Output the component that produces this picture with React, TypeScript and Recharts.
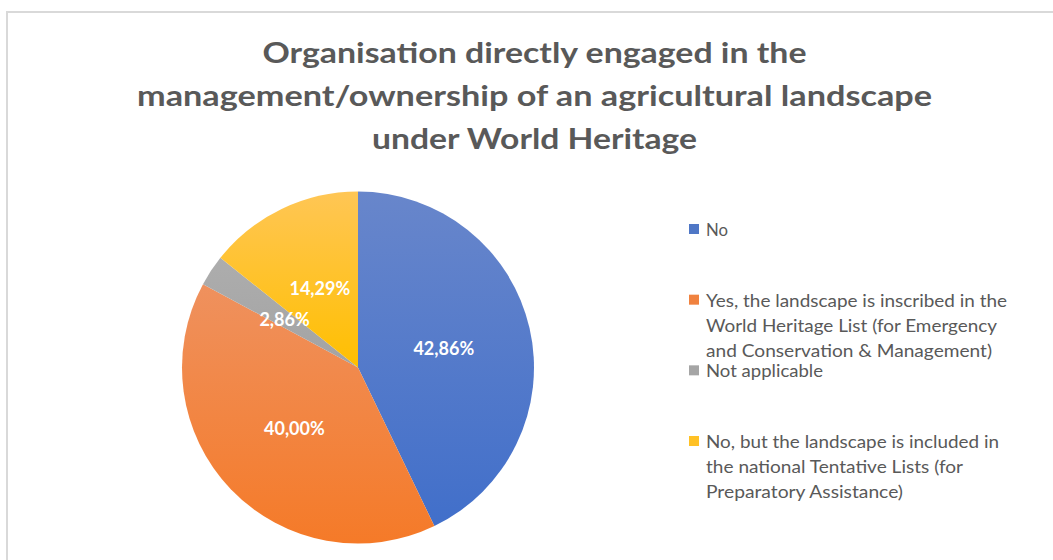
import React from "react";
import { PieChart, Pie, Cell, Legend } from "recharts";

// ---- data ----
const categories = [
  "No",
  "Yes, the landscape is inscribed in the World Heritage List (for Emergency and Conservation & Management)",
  "Not applicable",
  "No, but the landscape is included in the national Tentative Lists (for Preparatory Assistance)",
];
const shares = [42.86, 40.0, 2.86, 14.29];
const legendLines = [
  ["No"],
  ["Yes, the landscape is inscribed in the", "World Heritage List (for Emergency", "and Conservation & Management)"],
  ["Not applicable"],
  ["No, but the landscape is included in", "the national Tentative Lists (for", "Preparatory Assistance)"],
];
const titleLines = [
  "Organisation directly engaged in the",
  "management/ownership of an agricultural landscape",
  "under World Heritage",
];

// ---- styles / layout ----
const W = 1053;
const H = 560;
const FONT = "Lato, 'Open Sans', sans-serif";
const TEXT = "#595959";
const gradients = [
  { id: "gBlue", top: "#6886cb", bottom: "#416fca" },
  { id: "gOrange", top: "#ef915e", bottom: "#f57a28" },
  { id: "gGray", top: "#adadad", bottom: "#a3a3a3" },
  { id: "gYellow", top: "#ffc655", bottom: "#ffbf00" },
];
const markerColors = ["#4f77c6", "#f0823f", "#a5a5a5", "#ffc125"];
const titleWidths = [544, 795, 325];
const titleBaselines = [63, 106, 149];
const legendWidths = [[22], [301, 291, 286], [117], [293, 257, 197]];
const LEG_X = 680;
const LEG_Y = 210;

const data = categories.map((name, i) => ({ name, value: shares[i] }));

const fmt = (v: number) => v.toFixed(2).replace(".", ",") + "%";

const RAD = Math.PI / 180;
const renderLabel = (props: any) => {
  const { cx, cy, midAngle, outerRadius, value } = props;
  const r = outerRadius * 0.5;
  const x = cx + r * Math.cos(-midAngle * RAD);
  const y = cy + r * Math.sin(-midAngle * RAD);
  return (
    <text
      x={x}
      y={y}
      fill="#ffffff"
      textAnchor="middle"
      dominantBaseline="central"
      fontFamily={FONT}
      fontWeight={700}
      fontSize={18}
    >
      {fmt(value)}
    </text>
  );
};

const renderLegend = (props: any) => {
  const payload = props.payload || [];
  return (
    <svg width={360} height={310} style={{ overflow: "visible" }}>
      {payload.map((entry: any, i: number) => {
        const base = 236 + i * 70.67 - LEG_Y;
        const lines = legendLines[i] || [entry.value];
        return (
          <g key={i}>
            <rect x={689 - LEG_X} y={base - 12} width={10} height={10} fill={markerColors[i]} />
            {lines.map((ln, j) => (
              <text
                key={j}
                x={706 - LEG_X}
                y={base + j * 25}
                fill={TEXT}
                fontFamily={FONT}
                fontSize={18}
                textLength={legendWidths[i][j]}
                lengthAdjust="spacingAndGlyphs"
              >
                {ln}
              </text>
            ))}
          </g>
        );
      })}
    </svg>
  );
};

export default function App() {
  return (
    <div
      style={{
        position: "fixed",
        left: 0,
        top: 0,
        width: W,
        height: H,
        overflow: "hidden",
        background: "#ffffff",
      }}
    >
      <div
        style={{
          position: "absolute",
          left: 6,
          top: 11,
          width: W + 20,
          height: H + 20,
          border: "2px solid #d9d9d9",
          boxSizing: "border-box",
        }}
      />
      <div style={{ position: "absolute", left: 0, top: 0 }}>
        <PieChart width={W} height={H} margin={{ top: 0, right: 0, bottom: 0, left: 0 }}>
          <defs>
            {gradients.map((g) => (
              <linearGradient key={g.id} id={g.id} x1="0" y1="0" x2="0" y2="1">
                <stop offset="0%" stopColor={g.top} />
                <stop offset="100%" stopColor={g.bottom} />
              </linearGradient>
            ))}
          </defs>
          <Pie
            data={data}
            dataKey="value"
            nameKey="name"
            cx={358}
            cy={367.5}
            outerRadius={176}
            startAngle={90}
            endAngle={-270}
            stroke="none"
            label={renderLabel}
            labelLine={false}
            isAnimationActive={false}
          >
            {data.map((d, i) => (
              <Cell key={d.name} fill={`url(#${gradients[i].id})`} />
            ))}
          </Pie>
          <Legend
            layout="vertical"
            align="right"
            verticalAlign="top"
            content={renderLegend}
            wrapperStyle={{ left: LEG_X, top: LEG_Y, width: 360, height: 310 }}
          />
        </PieChart>
      </div>
      <svg
        width={W}
        height={H}
        style={{ position: "absolute", left: 0, top: 0, pointerEvents: "none" }}
      >
        {titleLines.map((t, i) => (
          <text
            key={i}
            x={534.5}
            y={titleBaselines[i]}
            textAnchor="middle"
            fill={TEXT}
            fontFamily={FONT}
            fontWeight={700}
            fontSize={29}
            textLength={titleWidths[i]}
            lengthAdjust="spacingAndGlyphs"
          >
            {t}
          </text>
        ))}
      </svg>
    </div>
  );
}
